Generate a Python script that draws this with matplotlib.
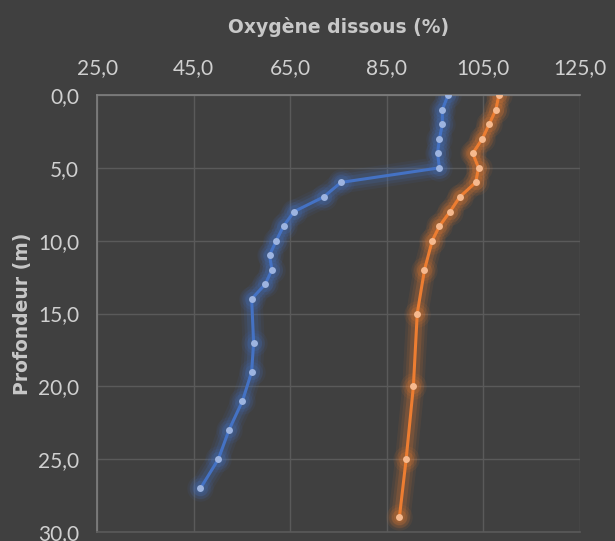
import matplotlib
matplotlib.use("Agg")
import matplotlib.pyplot as plt
from matplotlib.ticker import FuncFormatter, MultipleLocator

# Data
depth_blue = [0, 1, 2, 3, 4, 5, 6, 7, 8, 9, 10, 11, 12, 13, 14, 17, 19, 21, 23, 25, 27]
oxy_blue = [97.7, 96.5, 96.5, 95.9, 95.5, 95.9, 75.5, 71.9, 65.8, 63.6, 62.1, 60.7, 61.2,
            59.8, 57.0, 57.4, 57.0, 55.1, 52.3, 50.1, 46.4]

depth_orange = [0, 1, 2, 3, 4, 5, 6, 7, 8, 9, 10, 12, 15, 20, 25, 29]
oxy_orange = [108.2, 107.6, 106.2, 104.8, 102.8, 104.0, 103.4, 100.1, 98.1, 95.9, 94.4,
              92.8, 91.3, 90.5, 89.0, 87.6]

x_ticks = [25, 45, 65, 85, 105, 125]

BG = "#404040"
GRID = "#5a5a5a"
TEXT = "#d0d0d0"
BLUE = "#4472C4"
BLUE_MK = "#9db4e0"
ORANGE = "#ED7D31"
ORANGE_MK = "#f6b98e"

plt.rcParams["font.family"] = ["DejaVu Sans"]

fig = plt.figure(figsize=(6.15, 5.41), dpi=100)
fig.patch.set_facecolor(BG)
ax = fig.add_axes([0.158, 0.0166, 0.785, 0.8078])
ax.set_facecolor(BG)


def glow_line(x, y, color, mk_color):
    # soft glow behind the line
    for w, a in [(16, 0.08), (12, 0.11), (8, 0.17)]:
        ax.plot(x, y, color=color, linewidth=w, alpha=a, solid_capstyle="round",
                solid_joinstyle="round", zorder=2)
        ax.plot(x, y, linestyle="none", marker="o", markersize=w + 3, color=color,
                alpha=a, markeredgewidth=0, zorder=2)
    ax.plot(x, y, color=color, linewidth=2.2, zorder=3)
    ax.plot(x, y, linestyle="none", marker="o", markersize=5, color=mk_color,
            markeredgewidth=0, zorder=4)


glow_line(oxy_blue, depth_blue, BLUE, BLUE_MK)
glow_line(oxy_orange, depth_orange, ORANGE, ORANGE_MK)

ax.set_xlim(25, 125)
ax.set_ylim(30, 0)
ax.set_xticks(x_ticks)
ax.yaxis.set_major_locator(MultipleLocator(5))
fmt = FuncFormatter(lambda v, p: f"{v:.1f}".replace(".", ","))
ax.xaxis.set_major_formatter(fmt)
ax.yaxis.set_major_formatter(fmt)

ax.xaxis.tick_top()
ax.xaxis.set_label_position("top")
ax.tick_params(axis="both", length=0, colors=TEXT)
ax.tick_params(axis="x", pad=12)
ax.tick_params(axis="y", pad=13)
for lab in ax.get_xticklabels() + ax.get_yticklabels():
    lab.set_fontfamily("Lato")
    lab.set_fontweight("normal")
    lab.set_fontsize(15)

ax.grid(True, color=GRID, linewidth=1)
ax.set_axisbelow(True)
ax.spines["right"].set_visible(False)
ax.spines["top"].set_color("#808080")
ax.spines["left"].set_color("#808080")
ax.spines["bottom"].set_color(GRID)
for s in ["top", "left", "bottom"]:
    ax.spines[s].set_linewidth(1.2)

ax.set_xlabel("Oxygène dissous (%)", color="#c8c8c8", fontsize=13.5, fontweight="bold", labelpad=18)
ax.set_ylabel("Profondeur (m)", color="#c8c8c8", fontsize=13.5, fontweight="bold", labelpad=4)

fig.savefig("out.png", dpi=100, facecolor=BG)
